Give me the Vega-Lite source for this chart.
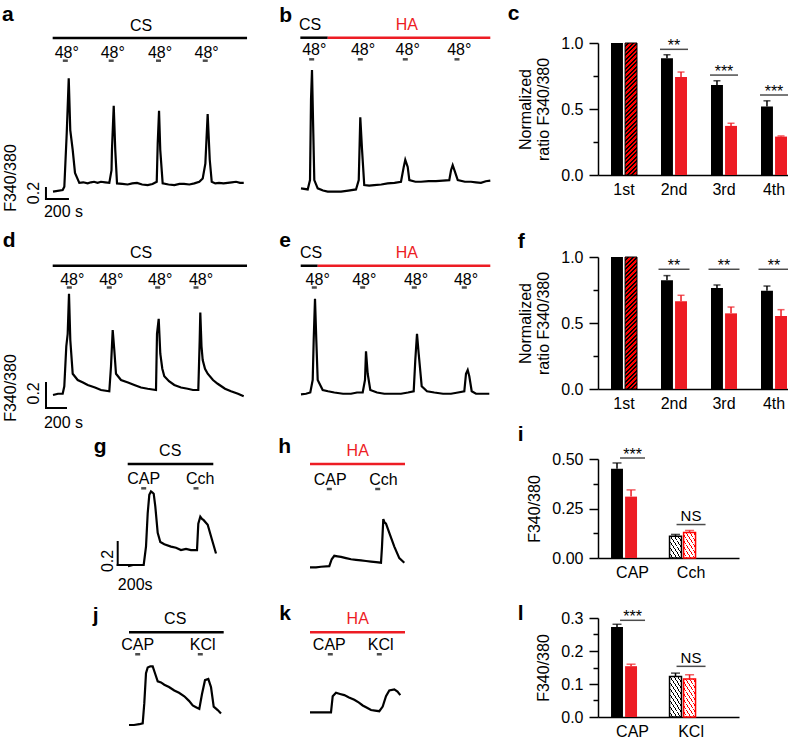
{
"$schema": "https://vega.github.io/schema/vega-lite/v6.json",
"background": "white",
"padding": {"left": 1, "top": 3, "right": 0, "bottom": 0},
"autosize": {"type": "pad"},
"spacing": 0,
"bounds": "flush",
"columns": 3,
"config": {
  "view": {"stroke": null},
  "font": "Liberation Sans",
  "axis": {"domainColor": "#000", "domainWidth": 1.5, "tickColor": "#000", "tickWidth": 1.5, "labelColor": "#000", "labelFontSize": 16, "titleFontSize": 16, "titleFontWeight": "normal", "titleColor": "#000", "grid": false, "labelFont": "Liberation Sans", "titleFont": "Liberation Sans"}
},
"concat": [
 {"width": 230, "height": 214,
  "encoding": {"x": {"field": "t", "type": "quantitative", "scale": {"domain": [-109.1, 1981.8], "nice": false, "zero": false}, "axis": null},
               "y": {"field": "v", "type": "quantitative", "scale": {"domain": [-0.418, 3.4727], "nice": false, "zero": false}, "axis": null}},
  "layer": [
   {"data": {"values": [{"t":0,"v":0.77},{"t":88,"v":0.8},{"t":103,"v":0.86},{"t":125,"v":1.84},{"t":143,"v":2.83},{"t":157,"v":1.89},{"t":179,"v":1.53},{"t":200,"v":1.11},{"t":239,"v":0.93},{"t":275,"v":0.94},{"t":315,"v":0.92},{"t":345,"v":0.94},{"t":373,"v":0.95},{"t":405,"v":0.93},{"t":436,"v":0.95},{"t":475,"v":0.94},{"t":512,"v":0.93},{"t":532,"v":1.16},{"t":536,"v":1.53},{"t":552,"v":2.33},{"t":566,"v":1.53},{"t":582,"v":0.92},{"t":630,"v":0.91},{"t":679,"v":0.9},{"t":720,"v":0.92},{"t":764,"v":0.93},{"t":810,"v":0.9},{"t":861,"v":0.89},{"t":905,"v":0.91},{"t":943,"v":0.95},{"t":952,"v":1.65},{"t":964,"v":2.24},{"t":975,"v":1.53},{"t":997,"v":0.92},{"t":1050,"v":0.9},{"t":1103,"v":0.89},{"t":1150,"v":0.91},{"t":1191,"v":0.91},{"t":1240,"v":0.9},{"t":1285,"v":0.92},{"t":1330,"v":0.95},{"t":1361,"v":1.01},{"t":1385,"v":1.28},{"t":1406,"v":2.18},{"t":1425,"v":1.35},{"t":1443,"v":0.95},{"t":1475,"v":0.92},{"t":1509,"v":0.93},{"t":1550,"v":0.92},{"t":1588,"v":0.93},{"t":1625,"v":0.94},{"t":1664,"v":0.95},{"t":1700,"v":0.93},{"t":1734,"v":0.93}]},
    "mark": {"type": "line", "color": "#000", "strokeWidth": 2.2}},
   {"data": {"values": [{"sol":"CS","t":-3,"t1":1764,"v":3.564}]}, "mark": {"type": "rule", "strokeWidth": 2.5},
    "encoding": {"x2": {"field": "t1"}, "color": {"field": "sol", "type": "nominal", "scale": {"domain": ["CS","HA"], "range": ["#000000","#ed1c24"]}, "legend": null}}},
   {"data": {"values": [{"sol":"CS","t":800,"v":3.782,"label":"CS"}]}, "mark": {"type": "text", "fontSize": 16},
    "encoding": {"text": {"field": "label"}, "color": {"field": "sol", "type": "nominal", "scale": {"domain": ["CS","HA"], "range": ["#000000","#ed1c24"]}, "legend": null}}},
   {"data": {"values": [{"t":112,"v":3.151},{"t":529,"v":3.151},{"t":959,"v":3.151},{"t":1384,"v":3.151}]}, "mark": {"type": "tick", "orient": "horizontal", "size": 5, "thickness": 2.5, "color": "#000"}},
   {"data": {"values": [{"t":125,"v":3.29,"label":"48°"},{"t":543,"v":3.29,"label":"48°"},{"t":973,"v":3.29,"label":"48°"},{"t":1397,"v":3.29,"label":"48°"},{"t":95,"v":0.405,"label":"200 s"}]},
    "mark": {"type": "text", "fontSize": 16, "color": "#000"}, "encoding": {"text": {"field": "label"}}},
   {"data": {"values": [{"t":-64,"t1":-64,"v":0.636,"v1":0.836},{"t":-64,"t1":136,"v":0.636,"v1":0.636}]}, "mark": {"type": "rule", "strokeWidth": 2, "color": "#000", "strokeCap": "square"},
    "encoding": {"x2": {"field": "t1"}, "y2": {"field": "v1"}}},
   {"data": {"values": [{"t":-173,"v":0.745,"label":"0.2"},{"t":-382,"v":1.018,"label":"F340/380"}]}, "mark": {"type": "text", "fontSize": 16, "angle": 270, "color": "#000"}, "encoding": {"text": {"field": "label"}}},
   {"data": {"values": [{"t":-464,"v":3.873,"label":"a"}]}, "mark": {"type": "text", "fontSize": 21, "fontWeight": "bold", "align": "left", "baseline": "alphabetic", "color": "#000"}, "encoding": {"text": {"field": "label"}}}
  ]},
 {"width": 327, "height": 214,
  "encoding": {"x": {"field": "t", "type": "quantitative", "scale": {"domain": [-272.7, 2700], "nice": false, "zero": false}, "axis": null},
               "y": {"field": "v", "type": "quantitative", "scale": {"domain": [-0.418, 3.4727], "nice": false, "zero": false}, "axis": null}},
  "layer": [
   {"data": {"values": [{"t":0,"v":0.83},{"t":61,"v":0.81},{"t":82,"v":0.98},{"t":91,"v":2.44},{"t":100,"v":2.98},{"t":112,"v":1.83},{"t":121,"v":0.98},{"t":152,"v":0.83},{"t":200,"v":0.79},{"t":243,"v":0.77},{"t":300,"v":0.77},{"t":364,"v":0.77},{"t":430,"v":0.79},{"t":500,"v":0.81},{"t":525,"v":0.98},{"t":539,"v":2.12},{"t":555,"v":1.53},{"t":575,"v":0.89},{"t":620,"v":0.88},{"t":666,"v":0.89},{"t":730,"v":0.9},{"t":788,"v":0.92},{"t":850,"v":0.93},{"t":909,"v":0.95},{"t":934,"v":1.22},{"t":948,"v":1.35},{"t":970,"v":1.22},{"t":985,"v":0.98},{"t":1040,"v":0.95},{"t":1091,"v":0.95},{"t":1160,"v":0.96},{"t":1227,"v":0.96},{"t":1290,"v":0.97},{"t":1348,"v":0.98},{"t":1364,"v":1.16},{"t":1379,"v":1.25},{"t":1400,"v":1.13},{"t":1425,"v":0.98},{"t":1490,"v":0.95},{"t":1545,"v":0.95},{"t":1590,"v":0.94},{"t":1636,"v":0.93},{"t":1680,"v":0.96},{"t":1721,"v":0.97}]},
    "mark": {"type": "line", "color": "#000", "strokeWidth": 2.2}},
   {"data": {"values": [{"sol":"CS","t":-6,"t1":243,"v":3.569},{"sol":"HA","t":243,"t1":1721,"v":3.569}]}, "mark": {"type": "rule", "strokeWidth": 2.5},
    "encoding": {"x2": {"field": "t1"}, "color": {"field": "sol", "type": "nominal", "scale": {"domain": ["CS","HA"], "range": ["#000000","#ed1c24"]}, "legend": null}}},
   {"data": {"values": [{"sol":"CS","t":82,"v":3.795,"label":"CS"},{"sol":"HA","t":962,"v":3.795,"label":"HA"}]}, "mark": {"type": "text", "fontSize": 16},
    "encoding": {"text": {"field": "label"}, "color": {"field": "sol", "type": "nominal", "scale": {"domain": ["CS","HA"], "range": ["#000000","#ed1c24"]}, "legend": null}}},
   {"data": {"values": [{"t":97,"v":3.176},{"t":539,"v":3.176},{"t":948,"v":3.176},{"t":1418,"v":3.176}]}, "mark": {"type": "tick", "orient": "horizontal", "size": 5, "thickness": 2.5, "color": "#000"}},
   {"data": {"values": [{"t":121,"v":3.345,"label":"48°"},{"t":564,"v":3.345,"label":"48°"},{"t":970,"v":3.345,"label":"48°"},{"t":1439,"v":3.345,"label":"48°"}]},
    "mark": {"type": "text", "fontSize": 16, "color": "#000"}, "encoding": {"text": {"field": "label"}}},
   {"data": {"values": [{"t":-197,"v":3.86,"label":"b"}]}, "mark": {"type": "text", "fontSize": 21, "fontWeight": "bold", "align": "left", "baseline": "alphabetic", "color": "#000"}, "encoding": {"text": {"field": "label"}}}
  ]},
 {"width": 202, "height": 132,
  "resolve": {"axis": {"y": "independent"}},
  "data": {"values": [{"pos":"1st","grp":"CS","val":1,"hi":1},{"pos":"1st","grp":"HA","val":1,"hi":1},{"pos":"2nd","grp":"CS","val":0.884,"hi":0.911},{"pos":"2nd","grp":"HA","val":0.742,"hi":0.78},{"pos":"3rd","grp":"CS","val":0.681,"hi":0.714},{"pos":"3rd","grp":"HA","val":0.372,"hi":0.392},{"pos":"4th","grp":"CS","val":0.519,"hi":0.562},{"pos":"4th","grp":"HA","val":0.291,"hi":0.296}]},
  "encoding": {"x": {"field": "pos", "type": "nominal", "sort": ["1st","2nd","3rd","4th"], "scale": {"paddingInner": 0.48, "paddingOuter": 0.26}, "axis": {"title": null, "labelAngle": 0, "ticks": false, "tickSize": 0, "labelPadding": 6}}},
  "layer": [
   {"transform": [{"filter": "!(datum.pos == '1st' && datum.grp == 'HA')"}], "mark": {"type": "bar"},
    "encoding": {"xOffset": {"field": "grp", "type": "nominal", "scale": {"domain": ["CS","HA"], "paddingInner": 0.15, "paddingOuter": 0}},
     "y": {"field": "val", "type": "quantitative", "scale": {"domain": [0, 1], "nice": false}, "axis": {"orient": "left", "title": ["Normalized", "ratio F340/380"], "values": [0, 0.5, 1], "format": ".1f", "tickSize": 9, "labelPadding": 6, "titlePadding": 9}},
     "color": {"field": "grp", "type": "nominal", "scale": {"domain": ["CS","HA"], "range": ["#000000","#ff0000"]}, "legend": null}}},
   {"transform": [{"filter": "datum.pos == '1st' && datum.grp == 'HA'"}],
    "mark": {"type": "bar", "stroke": "#000", "strokeWidth": 1, "fill": {"gradient": "linear", "x1": 0, "y1": 0, "x2": 0.098, "y2": 1.082, "stops": [
{"offset":0,"color":"#f00"},{"offset":0.0203,"color":"#f00"},{"offset":0.0203,"color":"#000"},{"offset":0.03125,"color":"#000"},
{"offset":0.03125,"color":"#f00"},{"offset":0.0516,"color":"#f00"},{"offset":0.0516,"color":"#000"},{"offset":0.0625,"color":"#000"},
{"offset":0.0625,"color":"#f00"},{"offset":0.0828,"color":"#f00"},{"offset":0.0828,"color":"#000"},{"offset":0.09375,"color":"#000"},
{"offset":0.09375,"color":"#f00"},{"offset":0.1141,"color":"#f00"},{"offset":0.1141,"color":"#000"},{"offset":0.125,"color":"#000"},
{"offset":0.125,"color":"#f00"},{"offset":0.1453,"color":"#f00"},{"offset":0.1453,"color":"#000"},{"offset":0.15625,"color":"#000"},
{"offset":0.15625,"color":"#f00"},{"offset":0.1766,"color":"#f00"},{"offset":0.1766,"color":"#000"},{"offset":0.1875,"color":"#000"},
{"offset":0.1875,"color":"#f00"},{"offset":0.2078,"color":"#f00"},{"offset":0.2078,"color":"#000"},{"offset":0.21875,"color":"#000"},
{"offset":0.21875,"color":"#f00"},{"offset":0.2391,"color":"#f00"},{"offset":0.2391,"color":"#000"},{"offset":0.25,"color":"#000"},
{"offset":0.25,"color":"#f00"},{"offset":0.2703,"color":"#f00"},{"offset":0.2703,"color":"#000"},{"offset":0.28125,"color":"#000"},
{"offset":0.28125,"color":"#f00"},{"offset":0.3016,"color":"#f00"},{"offset":0.3016,"color":"#000"},{"offset":0.3125,"color":"#000"},
{"offset":0.3125,"color":"#f00"},{"offset":0.3328,"color":"#f00"},{"offset":0.3328,"color":"#000"},{"offset":0.34375,"color":"#000"},
{"offset":0.34375,"color":"#f00"},{"offset":0.3641,"color":"#f00"},{"offset":0.3641,"color":"#000"},{"offset":0.375,"color":"#000"},
{"offset":0.375,"color":"#f00"},{"offset":0.3953,"color":"#f00"},{"offset":0.3953,"color":"#000"},{"offset":0.40625,"color":"#000"},
{"offset":0.40625,"color":"#f00"},{"offset":0.4266,"color":"#f00"},{"offset":0.4266,"color":"#000"},{"offset":0.4375,"color":"#000"},
{"offset":0.4375,"color":"#f00"},{"offset":0.4578,"color":"#f00"},{"offset":0.4578,"color":"#000"},{"offset":0.46875,"color":"#000"},
{"offset":0.46875,"color":"#f00"},{"offset":0.4891,"color":"#f00"},{"offset":0.4891,"color":"#000"},{"offset":0.5,"color":"#000"},
{"offset":0.5,"color":"#f00"},{"offset":0.5203,"color":"#f00"},{"offset":0.5203,"color":"#000"},{"offset":0.53125,"color":"#000"},
{"offset":0.53125,"color":"#f00"},{"offset":0.5516,"color":"#f00"},{"offset":0.5516,"color":"#000"},{"offset":0.5625,"color":"#000"},
{"offset":0.5625,"color":"#f00"},{"offset":0.5828,"color":"#f00"},{"offset":0.5828,"color":"#000"},{"offset":0.59375,"color":"#000"},
{"offset":0.59375,"color":"#f00"},{"offset":0.6141,"color":"#f00"},{"offset":0.6141,"color":"#000"},{"offset":0.625,"color":"#000"},
{"offset":0.625,"color":"#f00"},{"offset":0.6453,"color":"#f00"},{"offset":0.6453,"color":"#000"},{"offset":0.65625,"color":"#000"},
{"offset":0.65625,"color":"#f00"},{"offset":0.6766,"color":"#f00"},{"offset":0.6766,"color":"#000"},{"offset":0.6875,"color":"#000"},
{"offset":0.6875,"color":"#f00"},{"offset":0.7078,"color":"#f00"},{"offset":0.7078,"color":"#000"},{"offset":0.71875,"color":"#000"},
{"offset":0.71875,"color":"#f00"},{"offset":0.7391,"color":"#f00"},{"offset":0.7391,"color":"#000"},{"offset":0.75,"color":"#000"},
{"offset":0.75,"color":"#f00"},{"offset":0.7703,"color":"#f00"},{"offset":0.7703,"color":"#000"},{"offset":0.78125,"color":"#000"},
{"offset":0.78125,"color":"#f00"},{"offset":0.8016,"color":"#f00"},{"offset":0.8016,"color":"#000"},{"offset":0.8125,"color":"#000"},
{"offset":0.8125,"color":"#f00"},{"offset":0.8328,"color":"#f00"},{"offset":0.8328,"color":"#000"},{"offset":0.84375,"color":"#000"},
{"offset":0.84375,"color":"#f00"},{"offset":0.8641,"color":"#f00"},{"offset":0.8641,"color":"#000"},{"offset":0.875,"color":"#000"},
{"offset":0.875,"color":"#f00"},{"offset":0.8953,"color":"#f00"},{"offset":0.8953,"color":"#000"},{"offset":0.90625,"color":"#000"},
{"offset":0.90625,"color":"#f00"},{"offset":0.9266,"color":"#f00"},{"offset":0.9266,"color":"#000"},{"offset":0.9375,"color":"#000"},
{"offset":0.9375,"color":"#f00"},{"offset":0.9578,"color":"#f00"},{"offset":0.9578,"color":"#000"},{"offset":0.96875,"color":"#000"},
{"offset":0.96875,"color":"#f00"},{"offset":0.9891,"color":"#f00"},{"offset":0.9891,"color":"#000"},{"offset":1,"color":"#000"}]}},
    "encoding": {"xOffset": {"field": "grp", "type": "nominal", "scale": {"domain": ["CS","HA"], "paddingInner": 0.15, "paddingOuter": 0}},
     "y": {"field": "val", "type": "quantitative", "scale": {"domain": [0, 1], "nice": false}, "axis": null}}},
   {"transform": [{"filter": "datum.hi > datum.val"}], "mark": {"type": "rule", "strokeWidth": 1.5},
    "encoding": {"xOffset": {"field": "grp", "type": "nominal", "scale": {"domain": ["CS","HA"], "paddingInner": 0.15, "paddingOuter": 0}},
     "y": {"field": "val", "type": "quantitative", "scale": {"domain": [0, 1], "nice": false}, "axis": null}, "y2": {"field": "hi"},
     "color": {"field": "grp", "type": "nominal", "scale": {"domain": ["CS","HA"], "range": ["#000000","#ff0000"]}, "legend": null}}},
   {"transform": [{"filter": "datum.hi > datum.val"}], "mark": {"type": "tick", "orient": "horizontal", "size": 7, "thickness": 1.5},
    "encoding": {"xOffset": {"field": "grp", "type": "nominal", "scale": {"domain": ["CS","HA"], "paddingInner": 0.15, "paddingOuter": 0}},
     "y": {"field": "hi", "type": "quantitative", "scale": {"domain": [0, 1], "nice": false}, "axis": null},
     "color": {"field": "grp", "type": "nominal", "scale": {"domain": ["CS","HA"], "range": ["#000000","#ff0000"]}, "legend": null}}},
   {"data": {"values": [{"pos":"2nd","sv":0.952,"txt":"**"},{"pos":"3rd","sv":0.757,"txt":"***"},{"pos":"4th","sv":0.606,"txt":"***"}]},
    "mark": {"type": "tick", "orient": "horizontal", "size": 28, "thickness": 1.5, "color": "#000"},
    "encoding": {"y": {"field": "sv", "type": "quantitative", "scale": {"domain": [0, 1], "nice": false}, "axis": {"orient": "left", "values": [0.25, 0.75], "labels": false, "domain": false, "tickSize": 5, "title": null}}}},
   {"data": {"values": [{"pos":"2nd","sv":0.952,"txt":"**"},{"pos":"3rd","sv":0.757,"txt":"***"},{"pos":"4th","sv":0.606,"txt":"***"}]},
    "mark": {"type": "text", "fontSize": 16, "baseline": "alphabetic", "dy": 1.5, "color": "#000"},
    "encoding": {"y": {"field": "sv", "type": "quantitative", "scale": {"domain": [0, 1], "nice": false}, "axis": null}, "text": {"field": "txt"}}},
   {"data": {"values": [{"pos":"1st","sv":1.174,"txt":"c"}]},
    "mark": {"type": "text", "fontSize": 21, "fontWeight": "bold", "align": "left", "baseline": "alphabetic", "dx": -116.3, "color": "#000"},
    "encoding": {"y": {"field": "sv", "type": "quantitative", "scale": {"domain": [0, 1], "nice": false}, "axis": null}, "text": {"field": "txt"}}}
  ]},
 {"width": 230, "height": 202,
  "encoding": {"x": {"field": "t", "type": "quantitative", "scale": {"domain": [-120, 2180], "nice": false, "zero": false}, "axis": null},
               "y": {"field": "v", "type": "quantitative", "scale": {"domain": [0.248, 1.864], "nice": false, "zero": false}, "axis": null}},
  "layer": [
   {"data": {"values": [{"t":0,"v":0.76},{"t":50,"v":0.77},{"t":97,"v":0.77},{"t":113,"v":0.83},{"t":133,"v":1.15},{"t":147,"v":1.25},{"t":160,"v":1.57},{"t":173,"v":1.2},{"t":197,"v":0.93},{"t":247,"v":0.88},{"t":300,"v":0.86},{"t":347,"v":0.84},{"t":420,"v":0.82},{"t":480,"v":0.8},{"t":563,"v":0.79},{"t":580,"v":0.99},{"t":597,"v":1.28},{"t":613,"v":1.12},{"t":630,"v":0.93},{"t":680,"v":0.88},{"t":750,"v":0.86},{"t":813,"v":0.84},{"t":880,"v":0.82},{"t":947,"v":0.81},{"t":1030,"v":0.8},{"t":1040,"v":1.25},{"t":1057,"v":1.37},{"t":1073,"v":1.09},{"t":1093,"v":0.97},{"t":1113,"v":0.91},{"t":1160,"v":0.87},{"t":1213,"v":0.84},{"t":1280,"v":0.82},{"t":1347,"v":0.81},{"t":1400,"v":0.8},{"t":1453,"v":0.8},{"t":1467,"v":1.2},{"t":1473,"v":1.42},{"t":1485,"v":1.15},{"t":1497,"v":1.04},{"t":1520,"v":0.97},{"t":1547,"v":0.93},{"t":1600,"v":0.88},{"t":1647,"v":0.85},{"t":1720,"v":0.81},{"t":1780,"v":0.79},{"t":1850,"v":0.77},{"t":1907,"v":0.75}]},
    "mark": {"type": "line", "color": "#000", "strokeWidth": 2.2}},
   {"data": {"values": [{"sol":"CS","t":-3,"t1":1940,"v":1.794}]}, "mark": {"type": "rule", "strokeWidth": 2.5},
    "encoding": {"x2": {"field": "t1"}, "color": {"field": "sol", "type": "nominal", "scale": {"domain": ["CS","HA"], "range": ["#000000","#ed1c24"]}, "legend": null}}},
   {"data": {"values": [{"sol":"CS","t":880,"v":1.9,"label":"CS"}]}, "mark": {"type": "text", "fontSize": 16},
    "encoding": {"text": {"field": "label"}, "color": {"field": "sol", "type": "nominal", "scale": {"domain": ["CS","HA"], "range": ["#000000","#ed1c24"]}, "legend": null}}},
   {"data": {"values": [{"t":163,"v":1.62},{"t":563,"v":1.62},{"t":1047,"v":1.62},{"t":1430,"v":1.62}]}, "mark": {"type": "tick", "orient": "horizontal", "size": 5, "thickness": 2.5, "color": "#000"}},
   {"data": {"values": [{"t":193,"v":1.682,"label":"48°"},{"t":583,"v":1.682,"label":"48°"},{"t":1072,"v":1.682,"label":"48°"},{"t":1480,"v":1.682,"label":"48°"},{"t":105,"v":0.533,"label":"200 s"}]},
    "mark": {"type": "text", "fontSize": 16, "color": "#000"}, "encoding": {"text": {"field": "label"}}},
   {"data": {"values": [{"t":-70,"t1":-70,"v":0.656,"v1":0.856},{"t":-70,"t1":130,"v":0.656,"v1":0.656}]}, "mark": {"type": "rule", "strokeWidth": 2, "color": "#000", "strokeCap": "square"},
    "encoding": {"x2": {"field": "t1"}, "y2": {"field": "v1"}}},
   {"data": {"values": [{"t":-187,"v":0.773,"label":"0.2"},{"t":-420,"v":0.816,"label":"F340/380"}]}, "mark": {"type": "text", "fontSize": 16, "angle": 270, "color": "#000"}, "encoding": {"text": {"field": "label"}}},
   {"data": {"values": [{"t":-503,"v":1.946,"label":"d"}]}, "mark": {"type": "text", "fontSize": 21, "fontWeight": "bold", "align": "left", "baseline": "alphabetic", "color": "#000"}, "encoding": {"text": {"field": "label"}}}
  ]},
 {"width": 327, "height": 202,
  "encoding": {"x": {"field": "t", "type": "quantitative", "scale": {"domain": [-300, 2970], "nice": false, "zero": false}, "axis": null},
               "y": {"field": "v", "type": "quantitative", "scale": {"domain": [0.248, 1.864], "nice": false, "zero": false}, "axis": null}},
  "layer": [
   {"data": {"values": [{"t":0,"v":0.765},{"t":50,"v":0.77},{"t":93,"v":0.78},{"t":117,"v":0.88},{"t":127,"v":1.2},{"t":140,"v":1.53},{"t":153,"v":1.2},{"t":167,"v":0.88},{"t":217,"v":0.8},{"t":270,"v":0.79},{"t":333,"v":0.78},{"t":420,"v":0.77},{"t":500,"v":0.77},{"t":560,"v":0.78},{"t":617,"v":0.78},{"t":640,"v":0.88},{"t":650,"v":1.11},{"t":667,"v":0.93},{"t":693,"v":0.8},{"t":760,"v":0.78},{"t":833,"v":0.77},{"t":920,"v":0.77},{"t":1000,"v":0.77},{"t":1070,"v":0.78},{"t":1127,"v":0.79},{"t":1143,"v":1.04},{"t":1160,"v":1.25},{"t":1177,"v":1.09},{"t":1207,"v":0.83},{"t":1260,"v":0.79},{"t":1333,"v":0.78},{"t":1420,"v":0.77},{"t":1500,"v":0.77},{"t":1570,"v":0.78},{"t":1633,"v":0.79},{"t":1650,"v":0.93},{"t":1667,"v":0.96},{"t":1683,"v":0.91},{"t":1707,"v":0.79},{"t":1750,"v":0.77},{"t":1800,"v":0.77},{"t":1883,"v":0.77}]},
    "mark": {"type": "line", "color": "#000", "strokeWidth": 2.2}},
   {"data": {"values": [{"sol":"CS","t":-3,"t1":167,"v":1.794},{"sol":"HA","t":167,"t1":1893,"v":1.794}]}, "mark": {"type": "rule", "strokeWidth": 2.5},
    "encoding": {"x2": {"field": "t1"}, "color": {"field": "sol", "type": "nominal", "scale": {"domain": ["CS","HA"], "range": ["#000000","#ed1c24"]}, "legend": null}}},
   {"data": {"values": [{"sol":"CS","t":100,"v":1.9,"label":"CS"},{"sol":"HA","t":1058,"v":1.9,"label":"HA"}]}, "mark": {"type": "text", "fontSize": 16},
    "encoding": {"text": {"field": "label"}, "color": {"field": "sol", "type": "nominal", "scale": {"domain": ["CS","HA"], "range": ["#000000","#ed1c24"]}, "legend": null}}},
   {"data": {"values": [{"t":133,"v":1.62},{"t":617,"v":1.62},{"t":1133,"v":1.62},{"t":1633,"v":1.62}]}, "mark": {"type": "tick", "orient": "horizontal", "size": 5, "thickness": 2.5, "color": "#000"}},
   {"data": {"values": [{"t":167,"v":1.682,"label":"48°"},{"t":633,"v":1.682,"label":"48°"},{"t":1150,"v":1.682,"label":"48°"},{"t":1650,"v":1.682,"label":"48°"}]},
    "mark": {"type": "text", "fontSize": 16, "color": "#000"}, "encoding": {"text": {"field": "label"}}},
   {"data": {"values": [{"t":-217,"v":1.946,"label":"e"}]}, "mark": {"type": "text", "fontSize": 21, "fontWeight": "bold", "align": "left", "baseline": "alphabetic", "color": "#000"}, "encoding": {"text": {"field": "label"}}}
  ]},
 {"width": 202, "height": 132,
  "resolve": {"axis": {"y": "independent"}},
  "data": {"values": [{"pos":"1st","grp":"CS","val":1,"hi":1},{"pos":"1st","grp":"HA","val":1,"hi":1},{"pos":"2nd","grp":"CS","val":0.823,"hi":0.859},{"pos":"2nd","grp":"HA","val":0.664,"hi":0.71},{"pos":"3rd","grp":"CS","val":0.765,"hi":0.788},{"pos":"3rd","grp":"HA","val":0.573,"hi":0.621},{"pos":"4th","grp":"CS","val":0.745,"hi":0.78},{"pos":"4th","grp":"HA","val":0.553,"hi":0.601}]},
  "encoding": {"x": {"field": "pos", "type": "nominal", "sort": ["1st","2nd","3rd","4th"], "scale": {"paddingInner": 0.48, "paddingOuter": 0.26}, "axis": {"title": null, "labelAngle": 0, "ticks": false, "tickSize": 0, "labelPadding": 6}}},
  "layer": [
   {"transform": [{"filter": "!(datum.pos == '1st' && datum.grp == 'HA')"}], "mark": {"type": "bar"},
    "encoding": {"xOffset": {"field": "grp", "type": "nominal", "scale": {"domain": ["CS","HA"], "paddingInner": 0.15, "paddingOuter": 0}},
     "y": {"field": "val", "type": "quantitative", "scale": {"domain": [0, 1], "nice": false}, "axis": {"orient": "left", "title": ["Normalized", "ratio F340/380"], "values": [0, 0.5, 1], "format": ".1f", "tickSize": 9, "labelPadding": 6, "titlePadding": 9}},
     "color": {"field": "grp", "type": "nominal", "scale": {"domain": ["CS","HA"], "range": ["#000000","#ff0000"]}, "legend": null}}},
   {"transform": [{"filter": "datum.pos == '1st' && datum.grp == 'HA'"}],
    "mark": {"type": "bar", "stroke": "#000", "strokeWidth": 1, "fill": {"gradient": "linear", "x1": 0, "y1": 0, "x2": 0.098, "y2": 1.082, "stops": [
{"offset":0,"color":"#f00"},{"offset":0.0203,"color":"#f00"},{"offset":0.0203,"color":"#000"},{"offset":0.03125,"color":"#000"},
{"offset":0.03125,"color":"#f00"},{"offset":0.0516,"color":"#f00"},{"offset":0.0516,"color":"#000"},{"offset":0.0625,"color":"#000"},
{"offset":0.0625,"color":"#f00"},{"offset":0.0828,"color":"#f00"},{"offset":0.0828,"color":"#000"},{"offset":0.09375,"color":"#000"},
{"offset":0.09375,"color":"#f00"},{"offset":0.1141,"color":"#f00"},{"offset":0.1141,"color":"#000"},{"offset":0.125,"color":"#000"},
{"offset":0.125,"color":"#f00"},{"offset":0.1453,"color":"#f00"},{"offset":0.1453,"color":"#000"},{"offset":0.15625,"color":"#000"},
{"offset":0.15625,"color":"#f00"},{"offset":0.1766,"color":"#f00"},{"offset":0.1766,"color":"#000"},{"offset":0.1875,"color":"#000"},
{"offset":0.1875,"color":"#f00"},{"offset":0.2078,"color":"#f00"},{"offset":0.2078,"color":"#000"},{"offset":0.21875,"color":"#000"},
{"offset":0.21875,"color":"#f00"},{"offset":0.2391,"color":"#f00"},{"offset":0.2391,"color":"#000"},{"offset":0.25,"color":"#000"},
{"offset":0.25,"color":"#f00"},{"offset":0.2703,"color":"#f00"},{"offset":0.2703,"color":"#000"},{"offset":0.28125,"color":"#000"},
{"offset":0.28125,"color":"#f00"},{"offset":0.3016,"color":"#f00"},{"offset":0.3016,"color":"#000"},{"offset":0.3125,"color":"#000"},
{"offset":0.3125,"color":"#f00"},{"offset":0.3328,"color":"#f00"},{"offset":0.3328,"color":"#000"},{"offset":0.34375,"color":"#000"},
{"offset":0.34375,"color":"#f00"},{"offset":0.3641,"color":"#f00"},{"offset":0.3641,"color":"#000"},{"offset":0.375,"color":"#000"},
{"offset":0.375,"color":"#f00"},{"offset":0.3953,"color":"#f00"},{"offset":0.3953,"color":"#000"},{"offset":0.40625,"color":"#000"},
{"offset":0.40625,"color":"#f00"},{"offset":0.4266,"color":"#f00"},{"offset":0.4266,"color":"#000"},{"offset":0.4375,"color":"#000"},
{"offset":0.4375,"color":"#f00"},{"offset":0.4578,"color":"#f00"},{"offset":0.4578,"color":"#000"},{"offset":0.46875,"color":"#000"},
{"offset":0.46875,"color":"#f00"},{"offset":0.4891,"color":"#f00"},{"offset":0.4891,"color":"#000"},{"offset":0.5,"color":"#000"},
{"offset":0.5,"color":"#f00"},{"offset":0.5203,"color":"#f00"},{"offset":0.5203,"color":"#000"},{"offset":0.53125,"color":"#000"},
{"offset":0.53125,"color":"#f00"},{"offset":0.5516,"color":"#f00"},{"offset":0.5516,"color":"#000"},{"offset":0.5625,"color":"#000"},
{"offset":0.5625,"color":"#f00"},{"offset":0.5828,"color":"#f00"},{"offset":0.5828,"color":"#000"},{"offset":0.59375,"color":"#000"},
{"offset":0.59375,"color":"#f00"},{"offset":0.6141,"color":"#f00"},{"offset":0.6141,"color":"#000"},{"offset":0.625,"color":"#000"},
{"offset":0.625,"color":"#f00"},{"offset":0.6453,"color":"#f00"},{"offset":0.6453,"color":"#000"},{"offset":0.65625,"color":"#000"},
{"offset":0.65625,"color":"#f00"},{"offset":0.6766,"color":"#f00"},{"offset":0.6766,"color":"#000"},{"offset":0.6875,"color":"#000"},
{"offset":0.6875,"color":"#f00"},{"offset":0.7078,"color":"#f00"},{"offset":0.7078,"color":"#000"},{"offset":0.71875,"color":"#000"},
{"offset":0.71875,"color":"#f00"},{"offset":0.7391,"color":"#f00"},{"offset":0.7391,"color":"#000"},{"offset":0.75,"color":"#000"},
{"offset":0.75,"color":"#f00"},{"offset":0.7703,"color":"#f00"},{"offset":0.7703,"color":"#000"},{"offset":0.78125,"color":"#000"},
{"offset":0.78125,"color":"#f00"},{"offset":0.8016,"color":"#f00"},{"offset":0.8016,"color":"#000"},{"offset":0.8125,"color":"#000"},
{"offset":0.8125,"color":"#f00"},{"offset":0.8328,"color":"#f00"},{"offset":0.8328,"color":"#000"},{"offset":0.84375,"color":"#000"},
{"offset":0.84375,"color":"#f00"},{"offset":0.8641,"color":"#f00"},{"offset":0.8641,"color":"#000"},{"offset":0.875,"color":"#000"},
{"offset":0.875,"color":"#f00"},{"offset":0.8953,"color":"#f00"},{"offset":0.8953,"color":"#000"},{"offset":0.90625,"color":"#000"},
{"offset":0.90625,"color":"#f00"},{"offset":0.9266,"color":"#f00"},{"offset":0.9266,"color":"#000"},{"offset":0.9375,"color":"#000"},
{"offset":0.9375,"color":"#f00"},{"offset":0.9578,"color":"#f00"},{"offset":0.9578,"color":"#000"},{"offset":0.96875,"color":"#000"},
{"offset":0.96875,"color":"#f00"},{"offset":0.9891,"color":"#f00"},{"offset":0.9891,"color":"#000"},{"offset":1,"color":"#000"}]}},
    "encoding": {"xOffset": {"field": "grp", "type": "nominal", "scale": {"domain": ["CS","HA"], "paddingInner": 0.15, "paddingOuter": 0}},
     "y": {"field": "val", "type": "quantitative", "scale": {"domain": [0, 1], "nice": false}, "axis": null}}},
   {"transform": [{"filter": "datum.hi > datum.val"}], "mark": {"type": "rule", "strokeWidth": 1.5},
    "encoding": {"xOffset": {"field": "grp", "type": "nominal", "scale": {"domain": ["CS","HA"], "paddingInner": 0.15, "paddingOuter": 0}},
     "y": {"field": "val", "type": "quantitative", "scale": {"domain": [0, 1], "nice": false}, "axis": null}, "y2": {"field": "hi"},
     "color": {"field": "grp", "type": "nominal", "scale": {"domain": ["CS","HA"], "range": ["#000000","#ff0000"]}, "legend": null}}},
   {"transform": [{"filter": "datum.hi > datum.val"}], "mark": {"type": "tick", "orient": "horizontal", "size": 7, "thickness": 1.5},
    "encoding": {"xOffset": {"field": "grp", "type": "nominal", "scale": {"domain": ["CS","HA"], "paddingInner": 0.15, "paddingOuter": 0}},
     "y": {"field": "hi", "type": "quantitative", "scale": {"domain": [0, 1], "nice": false}, "axis": null},
     "color": {"field": "grp", "type": "nominal", "scale": {"domain": ["CS","HA"], "range": ["#000000","#ff0000"]}, "legend": null}}},
   {"data": {"values": [{"pos":"2nd","sv":0.907,"txt":"**"},{"pos":"3rd","sv":0.907,"txt":"**"},{"pos":"4th","sv":0.907,"txt":"**"}]},
    "mark": {"type": "tick", "orient": "horizontal", "size": 31, "thickness": 1.5, "color": "#000"},
    "encoding": {"y": {"field": "sv", "type": "quantitative", "scale": {"domain": [0, 1], "nice": false}, "axis": {"orient": "left", "values": [0.25, 0.75], "labels": false, "domain": false, "tickSize": 5, "title": null}}}},
   {"data": {"values": [{"pos":"2nd","sv":0.907,"txt":"**"},{"pos":"3rd","sv":0.907,"txt":"**"},{"pos":"4th","sv":0.907,"txt":"**"}]},
    "mark": {"type": "text", "fontSize": 16, "baseline": "alphabetic", "dy": 1.5, "color": "#000"},
    "encoding": {"y": {"field": "sv", "type": "quantitative", "scale": {"domain": [0, 1], "nice": false}, "axis": null}, "text": {"field": "txt"}}},
   {"data": {"values": [{"pos":"1st","sv":1.066,"txt":"f"}]},
    "mark": {"type": "text", "fontSize": 21, "fontWeight": "bold", "align": "left", "baseline": "alphabetic", "dx": -106.3, "color": "#000"},
    "encoding": {"y": {"field": "sv", "type": "quantitative", "scale": {"domain": [0, 1], "nice": false}, "axis": null}, "text": {"field": "txt"}}}
  ]},
 {"width": 230, "height": 159,
  "encoding": {"x": {"field": "t", "type": "quantitative", "scale": {"domain": [-870, 1430], "nice": false, "zero": false}, "axis": null},
               "y": {"field": "v", "type": "quantitative", "scale": {"domain": [0.339, 1.722], "nice": false, "zero": false}, "axis": null}},
  "layer": [
   {"data": {"values": [{"t":0,"v":0.79},{"t":50,"v":0.8},{"t":97,"v":0.8},{"t":157,"v":0.8},{"t":180,"v":0.96},{"t":197,"v":1.25},{"t":213,"v":1.41},{"t":230,"v":1.44},{"t":245,"v":1.43},{"t":257,"v":1.42},{"t":273,"v":1.31},{"t":297,"v":1.08},{"t":323,"v":1.0},{"t":363,"v":0.98},{"t":430,"v":0.96},{"t":480,"v":0.95},{"t":530,"v":0.93},{"t":580,"v":0.94},{"t":630,"v":0.93},{"t":690,"v":0.93},{"t":703,"v":1.16},{"t":723,"v":1.22},{"t":740,"v":1.2},{"t":757,"v":1.19},{"t":797,"v":1.15},{"t":840,"v":1.02},{"t":880,"v":0.9}]},
    "mark": {"type": "line", "color": "#000", "strokeWidth": 2.2}},
   {"data": {"values": [{"sol":"CS","t":-3,"t1":853,"v":1.678}]}, "mark": {"type": "rule", "strokeWidth": 2.5},
    "encoding": {"x2": {"field": "t1"}, "color": {"field": "sol", "type": "nominal", "scale": {"domain": ["CS","HA"], "range": ["#000000","#ed1c24"]}, "legend": null}}},
   {"data": {"values": [{"sol":"CS","t":422,"v":1.793,"label":"CS"}]}, "mark": {"type": "text", "fontSize": 16},
    "encoding": {"text": {"field": "label"}, "color": {"field": "sol", "type": "nominal", "scale": {"domain": ["CS","HA"], "range": ["#000000","#ed1c24"]}, "legend": null}}},
   {"data": {"values": [{"t":157,"v":1.467},{"t":680,"v":1.467}]}, "mark": {"type": "tick", "orient": "horizontal", "size": 5, "thickness": 2.5, "color": "#000"}},
   {"data": {"values": [{"t":157,"v":1.55,"label":"CAP"},{"t":722,"v":1.55,"label":"Cch"},{"t":72,"v":0.626,"label":"200s"}]},
    "mark": {"type": "text", "fontSize": 16, "color": "#000"}, "encoding": {"text": {"field": "label"}}},
   {"data": {"values": [{"t":-103,"t1":-103,"v":0.8,"v1":1.0},{"t":-103,"t1":97,"v":0.8,"v1":0.8}]}, "mark": {"type": "rule", "strokeWidth": 2, "color": "#000", "strokeCap": "square"},
    "encoding": {"x2": {"field": "t1"}, "y2": {"field": "v1"}}},
   {"data": {"values": [{"t":-203,"v":0.835,"label":"0.2"}]}, "mark": {"type": "text", "fontSize": 16, "angle": 270, "color": "#000"}, "encoding": {"text": {"field": "label"}}},
   {"data": {"values": [{"t":-343,"v":1.771,"label":"g"}]}, "mark": {"type": "text", "fontSize": 21, "fontWeight": "bold", "align": "left", "baseline": "alphabetic", "color": "#000"}, "encoding": {"text": {"field": "label"}}}
  ]},
 {"width": 327, "height": 159,
  "encoding": {"x": {"field": "t", "type": "quantitative", "scale": {"domain": [-390, 2880], "nice": false, "zero": false}, "axis": null},
               "y": {"field": "v", "type": "quantitative", "scale": {"domain": [0.339, 1.722], "nice": false, "zero": false}, "axis": null}},
  "layer": [
   {"data": {"values": [{"t":0,"v":0.78},{"t":60,"v":0.78},{"t":110,"v":0.785},{"t":193,"v":0.79},{"t":217,"v":0.85},{"t":243,"v":0.88},{"t":275,"v":0.875},{"t":310,"v":0.87},{"t":360,"v":0.86},{"t":410,"v":0.85},{"t":460,"v":0.845},{"t":510,"v":0.84},{"t":560,"v":0.835},{"t":610,"v":0.83},{"t":660,"v":0.825},{"t":710,"v":0.82},{"t":720,"v":0.96},{"t":733,"v":1.2},{"t":745,"v":1.17},{"t":760,"v":1.16},{"t":793,"v":1.08},{"t":843,"v":0.96},{"t":893,"v":0.86},{"t":943,"v":0.82}]},
    "mark": {"type": "line", "color": "#000", "strokeWidth": 2.2}},
   {"data": {"values": [{"sol":"HA","t":0,"t1":950,"v":1.678}]}, "mark": {"type": "rule", "strokeWidth": 2.5},
    "encoding": {"x2": {"field": "t1"}, "color": {"field": "sol", "type": "nominal", "scale": {"domain": ["CS","HA"], "range": ["#000000","#ed1c24"]}, "legend": null}}},
   {"data": {"values": [{"sol":"HA","t":477,"v":1.793,"label":"HA"}]}, "mark": {"type": "text", "fontSize": 16},
    "encoding": {"text": {"field": "label"}, "color": {"field": "sol", "type": "nominal", "scale": {"domain": ["CS","HA"], "range": ["#000000","#ed1c24"]}, "legend": null}}},
   {"data": {"values": [{"t":193,"v":1.461},{"t":677,"v":1.461}]}, "mark": {"type": "tick", "orient": "horizontal", "size": 5, "thickness": 2.5, "color": "#000"}},
   {"data": {"values": [{"t":202,"v":1.54,"label":"CAP"},{"t":735,"v":1.54,"label":"Cch"}]},
    "mark": {"type": "text", "fontSize": 16, "color": "#000"}, "encoding": {"text": {"field": "label"}}},
   {"data": {"values": [{"t":-317,"v":1.771,"label":"h"}]}, "mark": {"type": "text", "fontSize": 21, "fontWeight": "bold", "align": "left", "baseline": "alphabetic", "color": "#000"}, "encoding": {"text": {"field": "label"}}}
  ]},
 {"width": 141, "height": 99,
  "resolve": {"axis": {"y": "independent"}},
  "data": {"values": [{"pos":"CAP","grp":"CS","val":0.451,"hi":0.48},{"pos":"CAP","grp":"HA","val":0.31,"hi":0.344},{"pos":"Cch","grp":"CS","val":0.11,"hi":0.119},{"pos":"Cch","grp":"HA","val":0.129,"hi":0.139}]},
  "encoding": {"x": {"field": "pos", "type": "nominal", "sort": ["CAP","Cch"], "scale": {"paddingInner": 0.265, "paddingOuter": 0.3375, "align": 0.33}, "axis": {"title": null, "labelAngle": 0, "ticks": false, "tickSize": 0, "labelPadding": 6}}},
  "layer": [
   {"transform": [{"filter": "datum.pos == 'CAP'"}], "mark": {"type": "bar"},
    "encoding": {"xOffset": {"field": "grp", "type": "nominal", "scale": {"domain": ["CS","HA"], "paddingInner": 0.227, "paddingOuter": 0}},
     "y": {"field": "val", "type": "quantitative", "scale": {"domain": [0, 0.5], "nice": false}, "axis": {"orient": "left", "title": "F340/380", "values": [0, 0.25, 0.5], "format": ".2f", "tickSize": 9, "labelPadding": 6, "titlePadding": 9}},
     "color": {"field": "grp", "type": "nominal", "scale": {"domain": ["CS","HA"], "range": ["#000000","#ff0000"]}, "legend": null}}},
   {"transform": [{"filter": "datum.pos == 'Cch' && datum.grp == 'CS'"}],
    "mark": {"type": "bar", "stroke": "#000", "strokeWidth": 1.5, "fill": {"gradient": "linear", "x1": 0, "y1": 1, "x2": 0.92, "y2": -0.069, "stops": [
{"offset":0,"color":"#fff"},{"offset":0.111,"color":"#fff"},{"offset":0.111,"color":"#000"},{"offset":0.148,"color":"#000"},
{"offset":0.148,"color":"#fff"},{"offset":0.259,"color":"#fff"},{"offset":0.259,"color":"#000"},{"offset":0.296,"color":"#000"},
{"offset":0.296,"color":"#fff"},{"offset":0.407,"color":"#fff"},{"offset":0.407,"color":"#000"},{"offset":0.444,"color":"#000"},
{"offset":0.444,"color":"#fff"},{"offset":0.555,"color":"#fff"},{"offset":0.555,"color":"#000"},{"offset":0.592,"color":"#000"},
{"offset":0.592,"color":"#fff"},{"offset":0.703,"color":"#fff"},{"offset":0.703,"color":"#000"},{"offset":0.74,"color":"#000"},
{"offset":0.74,"color":"#fff"},{"offset":0.851,"color":"#fff"},{"offset":0.851,"color":"#000"},{"offset":0.888,"color":"#000"},
{"offset":0.888,"color":"#fff"},{"offset":1,"color":"#fff"}]}},
    "encoding": {"xOffset": {"field": "grp", "type": "nominal", "scale": {"domain": ["CS","HA"], "paddingInner": 0.227, "paddingOuter": 0}},
     "y": {"field": "val", "type": "quantitative", "scale": {"domain": [0, 0.5], "nice": false}, "axis": null}}},
   {"transform": [{"filter": "datum.pos == 'Cch' && datum.grp == 'HA'"}],
    "mark": {"type": "bar", "stroke": "#f00", "strokeWidth": 1.5, "fill": {"gradient": "linear", "x1": 0, "y1": 1, "x2": 0.827, "y2": -0.127, "stops": [
{"offset":0,"color":"#fff"},{"offset":0.1016,"color":"#fff"},{"offset":0.1016,"color":"#f00"},{"offset":0.1355,"color":"#f00"},
{"offset":0.1355,"color":"#fff"},{"offset":0.2371,"color":"#fff"},{"offset":0.2371,"color":"#f00"},{"offset":0.271,"color":"#f00"},
{"offset":0.271,"color":"#fff"},{"offset":0.3726,"color":"#fff"},{"offset":0.3726,"color":"#f00"},{"offset":0.4065,"color":"#f00"},
{"offset":0.4065,"color":"#fff"},{"offset":0.5081,"color":"#fff"},{"offset":0.5081,"color":"#f00"},{"offset":0.542,"color":"#f00"},
{"offset":0.542,"color":"#fff"},{"offset":0.6436,"color":"#fff"},{"offset":0.6436,"color":"#f00"},{"offset":0.6775,"color":"#f00"},
{"offset":0.6775,"color":"#fff"},{"offset":0.7791,"color":"#fff"},{"offset":0.7791,"color":"#f00"},{"offset":0.813,"color":"#f00"},
{"offset":0.813,"color":"#fff"},{"offset":0.9146,"color":"#fff"},{"offset":0.9146,"color":"#f00"},{"offset":0.9485,"color":"#f00"},
{"offset":0.9485,"color":"#fff"},{"offset":1,"color":"#fff"}]}},
    "encoding": {"xOffset": {"field": "grp", "type": "nominal", "scale": {"domain": ["CS","HA"], "paddingInner": 0.227, "paddingOuter": 0}},
     "y": {"field": "val", "type": "quantitative", "scale": {"domain": [0, 0.5], "nice": false}, "axis": null}}},
   {"transform": [{"filter": "datum.hi > datum.val"}], "mark": {"type": "rule", "strokeWidth": 1.5},
    "encoding": {"xOffset": {"field": "grp", "type": "nominal", "scale": {"domain": ["CS","HA"], "paddingInner": 0.227, "paddingOuter": 0}},
     "y": {"field": "val", "type": "quantitative", "scale": {"domain": [0, 0.5], "nice": false}, "axis": null}, "y2": {"field": "hi"},
     "color": {"field": "grp", "type": "nominal", "scale": {"domain": ["CS","HA"], "range": ["#000000","#ff0000"]}, "legend": null}}},
   {"transform": [{"filter": "datum.hi > datum.val"}], "mark": {"type": "tick", "orient": "horizontal", "size": 9, "thickness": 1.5},
    "encoding": {"xOffset": {"field": "grp", "type": "nominal", "scale": {"domain": ["CS","HA"], "paddingInner": 0.227, "paddingOuter": 0}},
     "y": {"field": "hi", "type": "quantitative", "scale": {"domain": [0, 0.5], "nice": false}, "axis": null},
     "color": {"field": "grp", "type": "nominal", "scale": {"domain": ["CS","HA"], "range": ["#000000","#ff0000"]}, "legend": null}}},
   {"data": {"values": [{"pos":"CAP","sv":0.505,"txt":"***"}]},
    "mark": {"type": "tick", "orient": "horizontal", "size": 25, "thickness": 1.5, "color": "#000"},
    "encoding": {"y": {"field": "sv", "type": "quantitative", "scale": {"domain": [0, 0.5], "nice": false}, "axis": {"orient": "left", "values": [0.125, 0.375], "labels": false, "domain": false, "tickSize": 5, "title": null}}}},
   {"data": {"values": [{"pos":"CAP","sv":0.505,"txt":"***"}]},
    "mark": {"type": "text", "fontSize": 16, "baseline": "alphabetic", "dy": 1.5, "color": "#000"},
    "encoding": {"y": {"field": "sv", "type": "quantitative", "scale": {"domain": [0, 0.5], "nice": false}, "axis": null}, "text": {"field": "txt"}}},
   {"data": {"values": [{"pos":"Cch","sv":0.169,"txt":"NS"}]},
    "mark": {"type": "tick", "orient": "horizontal", "size": 29, "thickness": 1.5, "color": "#000"},
    "encoding": {"y": {"field": "sv", "type": "quantitative", "scale": {"domain": [0, 0.5], "nice": false}, "axis": null}}},
   {"data": {"values": [{"pos":"Cch","sv":0.169,"txt":"NS"}]},
    "mark": {"type": "text", "fontSize": 15, "baseline": "alphabetic", "dy": -4, "color": "#000"},
    "encoding": {"y": {"field": "sv", "type": "quantitative", "scale": {"domain": [0, 0.5], "nice": false}, "axis": null}, "text": {"field": "txt"}}},
   {"data": {"values": [{"pos":"CAP","sv":0.592,"txt":"i"}]},
    "mark": {"type": "text", "fontSize": 21, "fontWeight": "bold", "align": "left", "baseline": "alphabetic", "dx": -114.8, "color": "#000"},
    "encoding": {"y": {"field": "sv", "type": "quantitative", "scale": {"domain": [0, 0.5], "nice": false}, "axis": null}, "text": {"field": "txt"}}}
  ]},
 {"width": 230, "height": 120,
  "encoding": {"x": {"field": "t", "type": "quantitative", "scale": {"domain": [-880, 1420], "nice": false, "zero": false}, "axis": null},
               "y": {"field": "v", "type": "quantitative", "scale": {"domain": [0.687, 1.7304], "nice": false, "zero": false}, "axis": null}},
  "layer": [
   {"data": {"values": [{"t":0,"v":0.8},{"t":50,"v":0.8},{"t":103,"v":0.807},{"t":137,"v":0.815},{"t":153,"v":0.99},{"t":170,"v":1.25},{"t":187,"v":1.3},{"t":213,"v":1.31},{"t":237,"v":1.31},{"t":260,"v":1.25},{"t":287,"v":1.18},{"t":320,"v":1.17},{"t":353,"v":1.15},{"t":400,"v":1.13},{"t":453,"v":1.1},{"t":500,"v":1.08},{"t":553,"v":1.05},{"t":600,"v":1.01},{"t":637,"v":0.97},{"t":670,"v":0.955},{"t":703,"v":0.94},{"t":730,"v":1.07},{"t":760,"v":1.19},{"t":793,"v":1.2},{"t":820,"v":1.13},{"t":847,"v":0.96},{"t":887,"v":0.93},{"t":920,"v":0.9}]},
    "mark": {"type": "line", "color": "#000", "strokeWidth": 2.2}},
   {"data": {"values": [{"sol":"CS","t":0,"t1":947,"v":1.606}]}, "mark": {"type": "rule", "strokeWidth": 2.5},
    "encoding": {"x2": {"field": "t1"}, "color": {"field": "sol", "type": "nominal", "scale": {"domain": ["CS","HA"], "range": ["#000000","#ed1c24"]}, "legend": null}}},
   {"data": {"values": [{"sol":"CS","t":462,"v":1.72,"label":"CS"}]}, "mark": {"type": "text", "fontSize": 16},
    "encoding": {"text": {"field": "label"}, "color": {"field": "sol", "type": "nominal", "scale": {"domain": ["CS","HA"], "range": ["#000000","#ed1c24"]}, "legend": null}}},
   {"data": {"values": [{"t":87,"v":1.415},{"t":713,"v":1.415}]}, "mark": {"type": "tick", "orient": "horizontal", "size": 5, "thickness": 2.5, "color": "#000"}},
   {"data": {"values": [{"t":87,"v":1.496,"label":"CAP"},{"t":737,"v":1.496,"label":"KCl"}]},
    "mark": {"type": "text", "fontSize": 16, "color": "#000"}, "encoding": {"text": {"field": "label"}}},
   {"data": {"values": [{"t":-363,"v":1.698,"label":"j"}]}, "mark": {"type": "text", "fontSize": 21, "fontWeight": "bold", "align": "left", "baseline": "alphabetic", "color": "#000"}, "encoding": {"text": {"field": "label"}}}
  ]},
 {"width": 327, "height": 120,
  "encoding": {"x": {"field": "t", "type": "quantitative", "scale": {"domain": [-390, 2880], "nice": false, "zero": false}, "axis": null},
               "y": {"field": "v", "type": "quantitative", "scale": {"domain": [0.687, 1.7304], "nice": false, "zero": false}, "axis": null}},
  "layer": [
   {"data": {"values": [{"t":0,"v":0.91},{"t":60,"v":0.91},{"t":110,"v":0.91},{"t":160,"v":0.91},{"t":210,"v":0.91},{"t":227,"v":1.05},{"t":260,"v":1.08},{"t":300,"v":1.07},{"t":343,"v":1.06},{"t":390,"v":1.04},{"t":443,"v":1.02},{"t":490,"v":0.995},{"t":527,"v":0.97},{"t":570,"v":0.95},{"t":610,"v":0.93},{"t":650,"v":0.925},{"t":693,"v":0.92},{"t":727,"v":0.96},{"t":760,"v":1.05},{"t":793,"v":1.1},{"t":843,"v":1.11},{"t":875,"v":1.09},{"t":903,"v":1.06}]},
    "mark": {"type": "line", "color": "#000", "strokeWidth": 2.2}},
   {"data": {"values": [{"sol":"HA","t":0,"t1":950,"v":1.606}]}, "mark": {"type": "rule", "strokeWidth": 2.5},
    "encoding": {"x2": {"field": "t1"}, "color": {"field": "sol", "type": "nominal", "scale": {"domain": ["CS","HA"], "range": ["#000000","#ed1c24"]}, "legend": null}}},
   {"data": {"values": [{"sol":"HA","t":477,"v":1.72,"label":"HA"}]}, "mark": {"type": "text", "fontSize": 16},
    "encoding": {"text": {"field": "label"}, "color": {"field": "sol", "type": "nominal", "scale": {"domain": ["CS","HA"], "range": ["#000000","#ed1c24"]}, "legend": null}}},
   {"data": {"values": [{"t":203,"v":1.415},{"t":693,"v":1.415}]}, "mark": {"type": "tick", "orient": "horizontal", "size": 5, "thickness": 2.5, "color": "#000"}},
   {"data": {"values": [{"t":193,"v":1.496,"label":"CAP"},{"t":707,"v":1.496,"label":"KCl"}]},
    "mark": {"type": "text", "fontSize": 16, "color": "#000"}, "encoding": {"text": {"field": "label"}}},
   {"data": {"values": [{"t":-307,"v":1.713,"label":"k"}]}, "mark": {"type": "text", "fontSize": 21, "fontWeight": "bold", "align": "left", "baseline": "alphabetic", "color": "#000"}, "encoding": {"text": {"field": "label"}}}
  ]},
 {"width": 141, "height": 99,
  "resolve": {"axis": {"y": "independent"}},
  "data": {"values": [{"pos":"CAP","grp":"CS","val":0.273,"hi":0.281},{"pos":"CAP","grp":"HA","val":0.154,"hi":0.16},{"pos":"KCl","grp":"CS","val":0.123,"hi":0.133},{"pos":"KCl","grp":"HA","val":0.115,"hi":0.128}]},
  "encoding": {"x": {"field": "pos", "type": "nominal", "sort": ["CAP","KCl"], "scale": {"paddingInner": 0.265, "paddingOuter": 0.3375, "align": 0.33}, "axis": {"title": null, "labelAngle": 0, "ticks": false, "tickSize": 0, "labelPadding": 6}}},
  "layer": [
   {"transform": [{"filter": "datum.pos == 'CAP'"}], "mark": {"type": "bar"},
    "encoding": {"xOffset": {"field": "grp", "type": "nominal", "scale": {"domain": ["CS","HA"], "paddingInner": 0.227, "paddingOuter": 0}},
     "y": {"field": "val", "type": "quantitative", "scale": {"domain": [0, 0.3], "nice": false}, "axis": {"orient": "left", "title": "F340/380", "values": [0, 0.1, 0.2, 0.3], "format": ".1f", "tickSize": 9, "labelPadding": 6, "titlePadding": 9}},
     "color": {"field": "grp", "type": "nominal", "scale": {"domain": ["CS","HA"], "range": ["#000000","#ff0000"]}, "legend": null}}},
   {"transform": [{"filter": "datum.pos == 'KCl' && datum.grp == 'CS'"}],
    "mark": {"type": "bar", "stroke": "#000", "strokeWidth": 1.5, "fill": {"gradient": "linear", "x1": 0, "y1": 1, "x2": 0.557, "y2": -0.205, "stops": [
{"offset":0,"color":"#fff"},{"offset":0.0758,"color":"#fff"},{"offset":0.0758,"color":"#000"},{"offset":0.1011,"color":"#000"},
{"offset":0.1011,"color":"#fff"},{"offset":0.1769,"color":"#fff"},{"offset":0.1769,"color":"#000"},{"offset":0.2022,"color":"#000"},
{"offset":0.2022,"color":"#fff"},{"offset":0.278,"color":"#fff"},{"offset":0.278,"color":"#000"},{"offset":0.3033,"color":"#000"},
{"offset":0.3033,"color":"#fff"},{"offset":0.3791,"color":"#fff"},{"offset":0.3791,"color":"#000"},{"offset":0.4044,"color":"#000"},
{"offset":0.4044,"color":"#fff"},{"offset":0.4802,"color":"#fff"},{"offset":0.4802,"color":"#000"},{"offset":0.5055,"color":"#000"},
{"offset":0.5055,"color":"#fff"},{"offset":0.5813,"color":"#fff"},{"offset":0.5813,"color":"#000"},{"offset":0.6066,"color":"#000"},
{"offset":0.6066,"color":"#fff"},{"offset":0.6824,"color":"#fff"},{"offset":0.6824,"color":"#000"},{"offset":0.7077,"color":"#000"},
{"offset":0.7077,"color":"#fff"},{"offset":0.7835,"color":"#fff"},{"offset":0.7835,"color":"#000"},{"offset":0.8088,"color":"#000"},
{"offset":0.8088,"color":"#fff"},{"offset":0.8846,"color":"#fff"},{"offset":0.8846,"color":"#000"},{"offset":0.9099,"color":"#000"},
{"offset":0.9099,"color":"#fff"},{"offset":1,"color":"#fff"}]}},
    "encoding": {"xOffset": {"field": "grp", "type": "nominal", "scale": {"domain": ["CS","HA"], "paddingInner": 0.227, "paddingOuter": 0}},
     "y": {"field": "val", "type": "quantitative", "scale": {"domain": [0, 0.3], "nice": false}, "axis": null}}},
   {"transform": [{"filter": "datum.pos == 'KCl' && datum.grp == 'HA'"}],
    "mark": {"type": "bar", "stroke": "#f00", "strokeWidth": 1.5, "fill": {"gradient": "linear", "x1": 0, "y1": 1, "x2": 0.593, "y2": -0.201, "stops": [
{"offset":0,"color":"#fff"},{"offset":0.0794,"color":"#fff"},{"offset":0.0794,"color":"#f00"},{"offset":0.1058,"color":"#f00"},
{"offset":0.1058,"color":"#fff"},{"offset":0.1852,"color":"#fff"},{"offset":0.1852,"color":"#f00"},{"offset":0.2116,"color":"#f00"},
{"offset":0.2116,"color":"#fff"},{"offset":0.291,"color":"#fff"},{"offset":0.291,"color":"#f00"},{"offset":0.3174,"color":"#f00"},
{"offset":0.3174,"color":"#fff"},{"offset":0.3968,"color":"#fff"},{"offset":0.3968,"color":"#f00"},{"offset":0.4232,"color":"#f00"},
{"offset":0.4232,"color":"#fff"},{"offset":0.5026,"color":"#fff"},{"offset":0.5026,"color":"#f00"},{"offset":0.529,"color":"#f00"},
{"offset":0.529,"color":"#fff"},{"offset":0.6084,"color":"#fff"},{"offset":0.6084,"color":"#f00"},{"offset":0.6348,"color":"#f00"},
{"offset":0.6348,"color":"#fff"},{"offset":0.7142,"color":"#fff"},{"offset":0.7142,"color":"#f00"},{"offset":0.7406,"color":"#f00"},
{"offset":0.7406,"color":"#fff"},{"offset":0.82,"color":"#fff"},{"offset":0.82,"color":"#f00"},{"offset":0.8464,"color":"#f00"},
{"offset":0.8464,"color":"#fff"},{"offset":0.9258,"color":"#fff"},{"offset":0.9258,"color":"#f00"},{"offset":0.9522,"color":"#f00"},
{"offset":0.9522,"color":"#fff"},{"offset":1,"color":"#fff"}]}},
    "encoding": {"xOffset": {"field": "grp", "type": "nominal", "scale": {"domain": ["CS","HA"], "paddingInner": 0.227, "paddingOuter": 0}},
     "y": {"field": "val", "type": "quantitative", "scale": {"domain": [0, 0.3], "nice": false}, "axis": null}}},
   {"transform": [{"filter": "datum.hi > datum.val"}], "mark": {"type": "rule", "strokeWidth": 1.5},
    "encoding": {"xOffset": {"field": "grp", "type": "nominal", "scale": {"domain": ["CS","HA"], "paddingInner": 0.227, "paddingOuter": 0}},
     "y": {"field": "val", "type": "quantitative", "scale": {"domain": [0, 0.3], "nice": false}, "axis": null}, "y2": {"field": "hi"},
     "color": {"field": "grp", "type": "nominal", "scale": {"domain": ["CS","HA"], "range": ["#000000","#ff0000"]}, "legend": null}}},
   {"transform": [{"filter": "datum.hi > datum.val"}], "mark": {"type": "tick", "orient": "horizontal", "size": 9, "thickness": 1.5},
    "encoding": {"xOffset": {"field": "grp", "type": "nominal", "scale": {"domain": ["CS","HA"], "paddingInner": 0.227, "paddingOuter": 0}},
     "y": {"field": "hi", "type": "quantitative", "scale": {"domain": [0, 0.3], "nice": false}, "axis": null},
     "color": {"field": "grp", "type": "nominal", "scale": {"domain": ["CS","HA"], "range": ["#000000","#ff0000"]}, "legend": null}}},
   {"data": {"values": [{"pos":"CAP","sv":0.293,"txt":"***"}]},
    "mark": {"type": "tick", "orient": "horizontal", "size": 25, "thickness": 1.5, "color": "#000"},
    "encoding": {"y": {"field": "sv", "type": "quantitative", "scale": {"domain": [0, 0.3], "nice": false}, "axis": {"orient": "left", "values": [0.05, 0.15, 0.25], "labels": false, "domain": false, "tickSize": 5, "title": null}}}},
   {"data": {"values": [{"pos":"CAP","sv":0.293,"txt":"***"}]},
    "mark": {"type": "text", "fontSize": 16, "baseline": "alphabetic", "dy": 1.5, "color": "#000"},
    "encoding": {"y": {"field": "sv", "type": "quantitative", "scale": {"domain": [0, 0.3], "nice": false}, "axis": null}, "text": {"field": "txt"}}},
   {"data": {"values": [{"pos":"KCl","sv":0.1535,"txt":"NS"}]},
    "mark": {"type": "tick", "orient": "horizontal", "size": 29, "thickness": 1.5, "color": "#000"},
    "encoding": {"y": {"field": "sv", "type": "quantitative", "scale": {"domain": [0, 0.3], "nice": false}, "axis": null}}},
   {"data": {"values": [{"pos":"KCl","sv":0.1535,"txt":"NS"}]},
    "mark": {"type": "text", "fontSize": 15, "baseline": "alphabetic", "dy": -3, "color": "#000"},
    "encoding": {"y": {"field": "sv", "type": "quantitative", "scale": {"domain": [0, 0.3], "nice": false}, "axis": null}, "text": {"field": "txt"}}},
   {"data": {"values": [{"pos":"CAP","sv":0.294,"txt":"l"}]},
    "mark": {"type": "text", "fontSize": 21, "fontWeight": "bold", "align": "left", "baseline": "alphabetic", "dx": -114.8, "color": "#000"},
    "encoding": {"y": {"field": "sv", "type": "quantitative", "scale": {"domain": [0, 0.3], "nice": false}, "axis": null}, "text": {"field": "txt"}}}
  ]}
]
}
